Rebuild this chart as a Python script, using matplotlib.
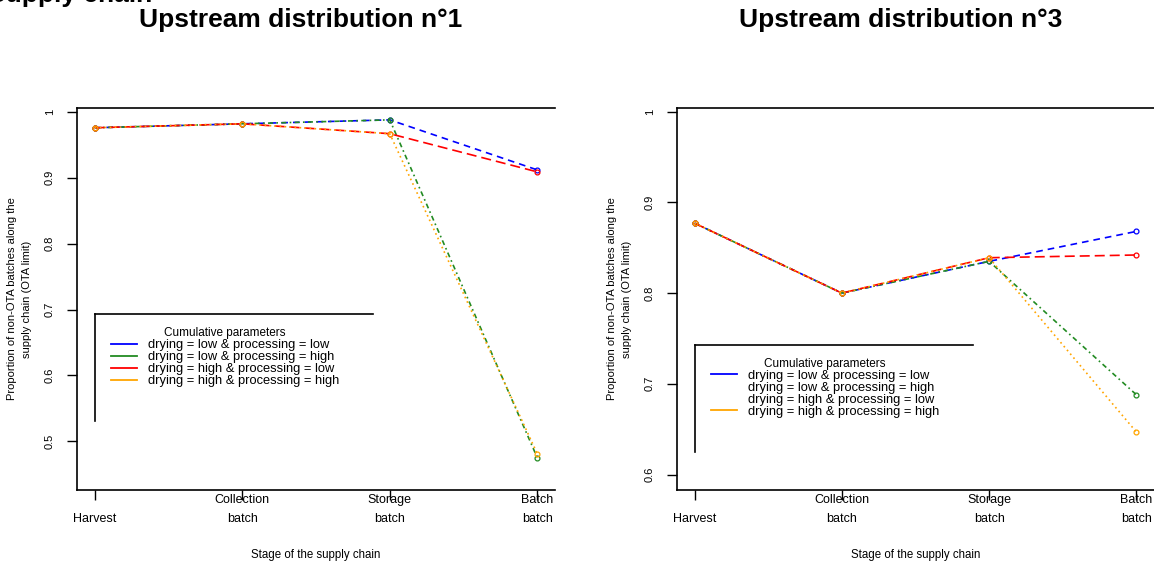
import matplotlib
matplotlib.use("Agg")
import matplotlib.pyplot as plt
from matplotlib.lines import Line2D

plt.rcParams["font.family"] = ["Liberation Sans", "DejaVu Sans"]

# ── Data ─────────────────────────────────────────────────────────────────────
stages = ["\nHarvest", "Collection\nbatch", "Storage\nbatch", "Batch\nbatch"]
series_labels = [
    "drying = low & processing = low",
    "drying = low & processing = high",
    "drying = high & processing = low",
    "drying = high & processing = high",
]
colors = ["#0000FF", "#228B22", "#FF0000", "#FFA500"]

# upstream distribution n°1
d1_low_low   = [0.976, 0.982, 0.988, 0.912]
d1_low_high  = [0.976, 0.982, 0.988, 0.475]
d1_high_low  = [0.976, 0.982, 0.967, 0.909]
d1_high_high = [0.976, 0.982, 0.967, 0.481]

# upstream distribution n°3
d3_low_low   = [0.877, 0.800, 0.835, 0.868]
d3_low_high  = [0.877, 0.800, 0.835, 0.688]
d3_high_low  = [0.877, 0.800, 0.839, 0.842]
d3_high_high = [0.877, 0.800, 0.839, 0.647]

yticks_1 = [1.0, 0.9, 0.8, 0.7, 0.6, 0.5]
yticks_3 = [1.0, 0.9, 0.8, 0.7, 0.6]

styles = [(0, (4, 3)), (0, (3, 2, 1, 2)), (0, (6, 3)), (0, (1, 2))]

W, H = 1154, 563
fig = plt.figure(figsize=(W / 100, H / 100), dpi=100)


def panel(x0, x1, data, yticks, ylim, title, legend_y, hide_mid):
    ax = fig.add_axes([x0 / W, 1 - 490 / H, (x1 - x0) / W, (490 - 108) / H])
    x = range(len(stages))
    for vals, c, ls, lab in zip(data, colors, styles, series_labels):
        ax.plot(x, vals, color=c, linestyle=ls, lw=1.2, marker="o", ms=3.5,
                mfc="none", mew=0.9, label=lab)
    ax.set_xlim(-0.12, 3.12)
    ax.set_ylim(*ylim)
    ax.set_xticks(list(x))
    ax.set_xticklabels(stages, fontsize=9, linespacing=1.75)
    ax.set_yticks(yticks)
    ax.set_yticklabels([f"{v:g}" for v in yticks], rotation=90, fontsize=8,
                       va="center")
    ax.tick_params(direction="out", length=7, width=1, pad=9)
    ax.tick_params(axis="x", pad=-4)
    for s in ["left", "bottom", "top"]:
        ax.spines[s].set_linewidth(1.2)
    ax.spines["right"].set_visible(False)
    ax.set_xlabel("Stage of the supply chain", fontsize=8.3, labelpad=17)
    ax.set_ylabel("Proportion of non-OTA batches along the\nsupply chain (OTA limit)",
                  fontsize=8, labelpad=9, linespacing=1.6)
    fig.text((x0 + x1 - 30) / 2 / W, 1 - 20 / H, title, ha="center",
             va="center", fontsize=19, fontweight="bold")

    # legend: title + entries, framed by top and left lines only
    handles = []
    for i, (c, lab) in enumerate(zip(colors, series_labels)):
        col = "none" if i in hide_mid else c
        handles.append(Line2D([], [], color=col, lw=1.3, label=lab))
    ax.legend(handles=handles, title="Cumulative parameters",
              loc="upper left", bbox_to_anchor=(0.06, legend_y),
              frameon=False, fontsize=9.3, title_fontsize=8.5,
              handlelength=2.0, handletextpad=0.9, labelspacing=0.0,
              borderaxespad=0)
    top = legend_y + 0.02
    ax.plot([0.037, 0.62], [top, top], transform=ax.transAxes, color="black",
            lw=1.2, clip_on=False)
    ax.plot([0.037, 0.037], [top, top - 0.28], transform=ax.transAxes,
            color="black", lw=1.2, clip_on=False)
    return ax


panel(77, 555, [d1_low_low, d1_low_high, d1_high_low, d1_high_high],
      yticks_1, (0.426, 1.006), "Upstream distribution n°1", 0.44, [])
panel(677, 1154, [d3_low_low, d3_low_high, d3_high_low, d3_high_high],
      yticks_3, (0.583, 1.004), "Upstream distribution n°3", 0.36, [1, 2])

# part of a heading that sits above the top edge of the picture
fig.text(152 / W, 1 - 2 / H, "Supply chain", ha="right", va="baseline",
         fontsize=19, fontweight="bold")

fig.savefig("out.png", dpi=100)
